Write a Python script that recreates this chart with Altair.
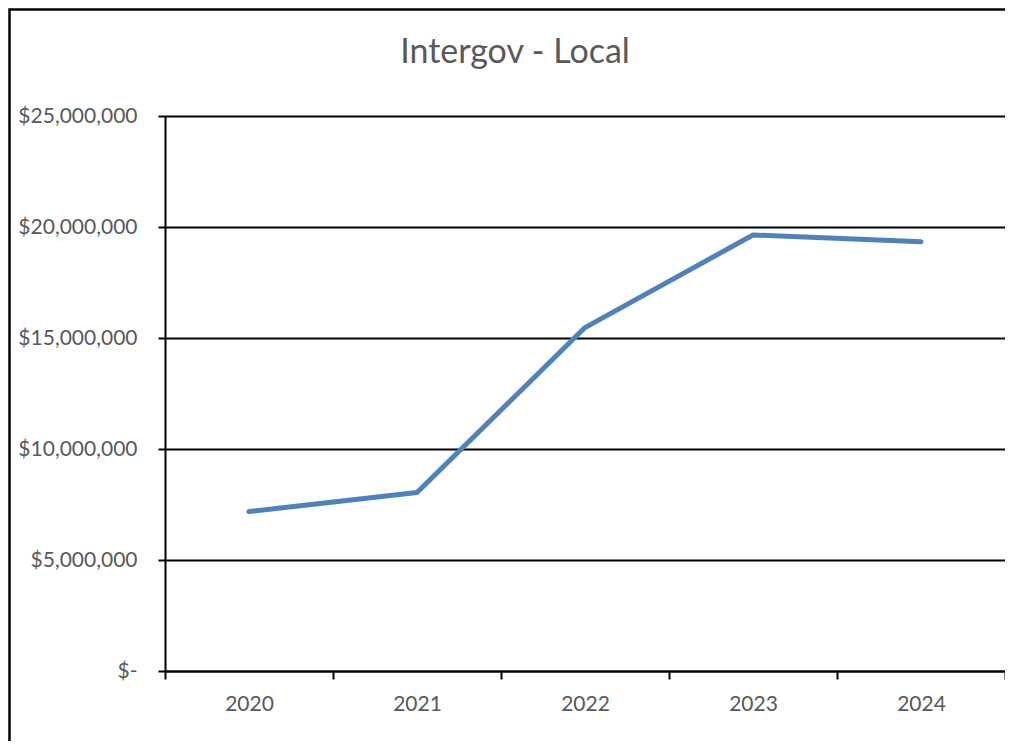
import altair as alt
import pandas as pd

years = ["2020", "2021", "2022", "2023", "2024"]
values = [7180000, 8040000, 15470000, 19640000, 19340000]
y_ticks = [0, 5000000, 10000000, 15000000, 20000000, 25000000]
title_text = "Intergov - Local"

df = pd.DataFrame({"year": years, "value": values})

FONT = "Lato"
GRAY = "#595959"

line = alt.Chart(df).mark_line(
    color="#4F81BD", strokeWidth=5, strokeCap="round", strokeJoin="round"
).encode(
    x=alt.X("year:O", bandPosition=0.5,
            scale=alt.Scale(type="band", paddingInner=0, paddingOuter=0),
            axis=alt.Axis(title=None, labelAngle=0, tickBand="extent",
                          domainColor="black", domainWidth=2,
                          tickColor="black", tickWidth=2, tickSize=8,
                          labelFont=FONT, labelFontSize=21, labelColor=GRAY,
                          labelPadding=14, grid=False)),
    y=alt.Y("value:Q", scale=alt.Scale(domain=[0, 25000000], nice=False),
            axis=alt.Axis(title=None, values=y_ticks,
                          labelExpr="datum.value == 0 ? '$-\u00a0\u00a0' : '$' + format(datum.value, ',')",
                          domainColor="black", domainWidth=2,
                          tickColor="black", tickWidth=2, tickSize=7,
                          gridColor="black", gridWidth=2, grid=True,
                          labelFont=FONT, labelFontSize=21, labelColor=GRAY,
                          labelPadding=21)),
)

border = alt.Chart(pd.DataFrame({"a": [0]})).mark_rect(
    fill="transparent", stroke="black", strokeWidth=2.5
).encode(
    x=alt.value(-155.5), x2=alt.value(900),
    y=alt.value(-106.5), y2=alt.value(700),
)

title = alt.Chart(pd.DataFrame({"t": [title_text]})).mark_text(
    font=FONT, fontSize=34, color=GRAY, align="center", baseline="alphabetic"
).encode(
    text="t:N", x=alt.value(350), y=alt.value(-53),
)

chart = alt.layer(border, line, title).properties(
    width=840, height=555,
    padding={"left": 157, "top": 108, "right": 0, "bottom": 70},
    autosize="none",
).configure_view(stroke=None)

chart.save("out.html", embed_options={"renderer": "svg", "actions": False})
